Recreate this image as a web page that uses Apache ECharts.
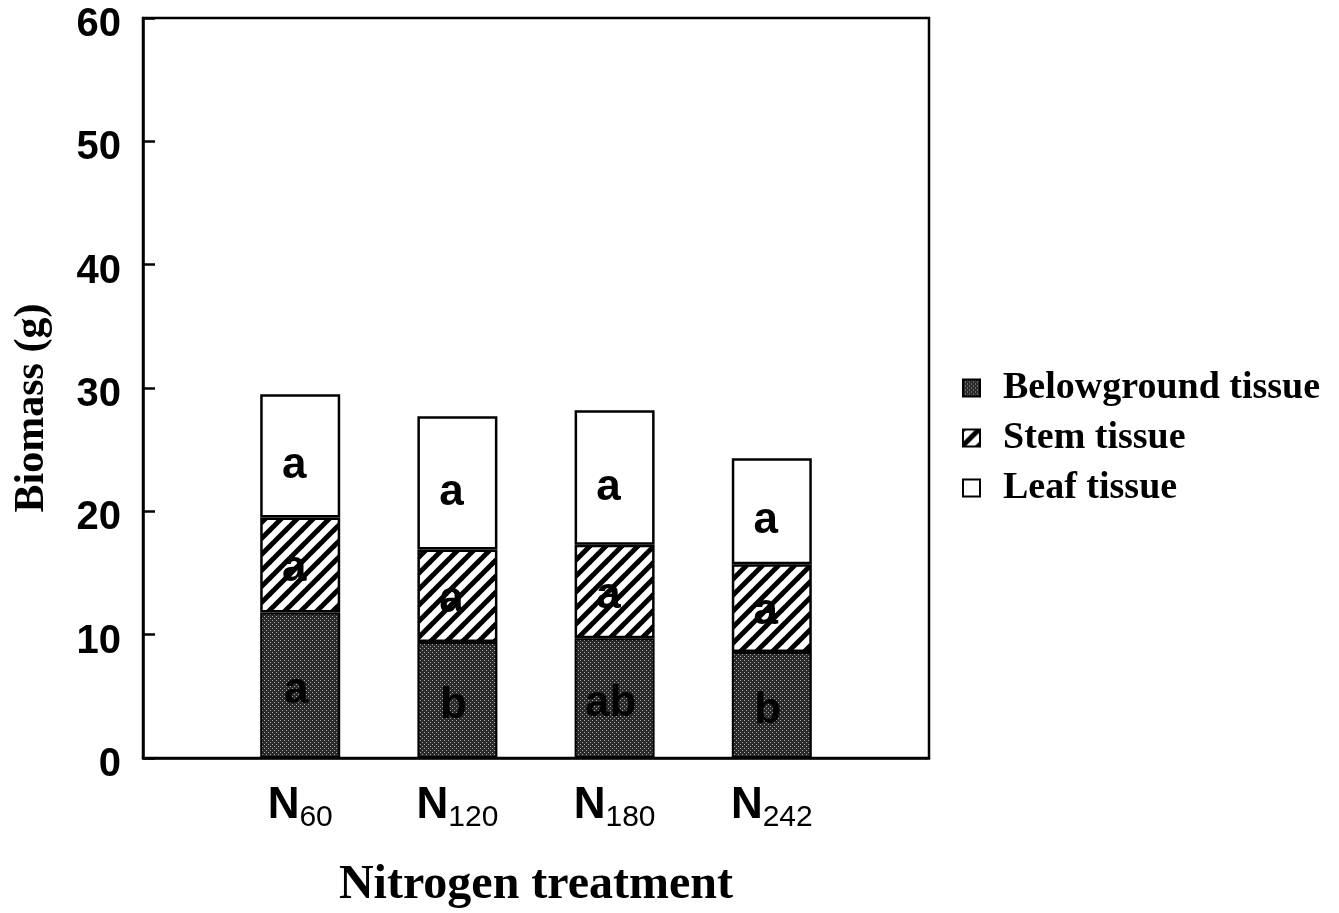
<!DOCTYPE html>
<html>
<head>
<meta charset="utf-8">
<script src="https://cdn.jsdelivr.net/npm/echarts@6/dist/echarts.min.js"></script>
<style>
  html, body { margin: 0; padding: 0; background: #fff; }
  #main { width: 1339px; height: 913px; }
</style>
</head>
<body>
<div id="main"></div>
<script>
// values (g)
const categories = ['N60', 'N120', 'N180', 'N242'];
const belowground = [11.8, 9.4, 9.7, 8.6];
const stem = [7.7, 7.5, 7.6, 7.1];
const leaf = [10.0, 10.8, 10.9, 8.6];
// significance letters
const belowLetters = ['a', 'b', 'ab', 'b'];
const stemLetters = ['a', 'a', 'a', 'a'];
const leafLetters = ['a', 'a', 'a', 'a'];
const yTicks = [0, 10, 20, 30, 40, 50, 60];

// empty slot at each end so the bars sit like the original
const pad = arr => ['-', ...arr, '-'];
const padCat = ['', ...categories, ''];
const padLet = arr => ['', ...arr, ''];

function stipple() {
    const c = document.createElement('canvas');
    c.width = 4; c.height = 4;
    const g = c.getContext('2d');
    g.fillStyle = '#2a2a2a';
    g.fillRect(0, 0, 4, 4);
    g.fillStyle = '#a8a8a8';
    g.fillRect(0, 0, 1, 1);
    g.fillRect(2, 2, 1, 1);
    return c;
}

function hatch() {
    const s = 16;
    const c = document.createElement('canvas');
    c.width = s; c.height = s;
    const g = c.getContext('2d');
    g.fillStyle = '#fff';
    g.fillRect(0, 0, s, s);
    g.strokeStyle = '#000';
    g.lineWidth = 5;
    [[-s, s, s, -s], [0, 2 * s, 2 * s, 0], [0, s, s, 0]].forEach(l => {
        g.beginPath();
        g.moveTo(l[0], l[1]);
        g.lineTo(l[2], l[3]);
        g.stroke();
    });
    return c;
}

const chart = echarts.init(document.getElementById('main'), null, { width: 1339, height: 913 });

const labelBase = {
    show: true,
    position: 'inside',
    color: '#000',
    fontFamily: 'Liberation Sans',
    fontWeight: 'bold',
    fontSize: 44
};

const option = {
    animation: false,
    backgroundColor: '#fff',
    grid: {
        left: 143, top: 18, width: 786, height: 740,
        outerBoundsMode: 'none',
        containLabel: false,
        show: true, borderColor: '#000', borderWidth: 2.5
    },
    legend: {
        orient: 'vertical',
        left: 957,
        top: 364,
        itemWidth: 17,
        itemHeight: 17,
        itemGap: 12,
        icon: 'rect',
        textStyle: {
            fontFamily: 'Liberation Serif',
            fontWeight: 'bold',
            fontSize: 38,
            color: '#000',
            padding: [0, 0, 0, 18]
        },
        data: ['Belowground tissue', 'Stem tissue', 'Leaf tissue']
    },
    xAxis: {
        type: 'category',
        data: padCat,
        boundaryGap: false,
        axisLine: { lineStyle: { color: '#000', width: 2.5 } },
        axisTick: { show: false },
        axisLabel: {
            interval: 0,
            margin: 26,
            color: '#000',
            formatter: v => v ? '{n|N}{s|' + v.slice(1) + '}' : '',
            rich: {
                n: { fontFamily: 'Liberation Sans', fontWeight: 'bold', fontSize: 44, verticalAlign: 'top', lineHeight: 50 },
                s: { fontFamily: 'Liberation Sans', fontSize: 30, verticalAlign: 'top', padding: [19, 0, 0, 0] }
            }
        },
        name: 'Nitrogen treatment',
        nameLocation: 'middle',
        nameGap: 104,
        nameTextStyle: { fontFamily: 'Liberation Serif', fontWeight: 'bold', fontSize: 48, color: '#000' }
    },
    yAxis: {
        type: 'value',
        min: 0,
        max: 60,
        interval: 10,
        splitLine: { show: false },
        axisLine: { show: true, lineStyle: { color: '#000', width: 2.5 } },
        axisTick: { show: true, inside: true, length: 12, lineStyle: { color: '#000', width: 2.5 } },
        axisLabel: {
            margin: 22,
            color: '#000',
            formatter: v => yTicks.includes(v) ? '{v|' + v + '}' : '',
            rich: {
                v: { fontFamily: 'Liberation Sans', fontWeight: 'bold', fontSize: 40, padding: [14, 0, 0, 0] }
            }
        },
        name: 'Biomass (g)',
        nameLocation: 'middle',
        nameGap: 90,
        nameTextStyle: { fontFamily: 'Liberation Serif', fontWeight: 'bold', fontSize: 42, color: '#000', padding: [0, 0, 0, -40] }
    },
    series: [
        {
            name: 'Belowground tissue',
            type: 'bar',
            stack: 'total',
            barWidth: 80,
            data: pad(belowground),
            itemStyle: { color: { image: stipple(), repeat: 'repeat' }, borderColor: '#000', borderWidth: 2 },
            label: Object.assign({}, labelBase, { offset: [-4, 6], formatter: p => padLet(belowLetters)[p.dataIndex] })
        },
        {
            name: 'Stem tissue',
            type: 'bar',
            stack: 'total',
            barWidth: 80,
            data: pad(stem),
            itemStyle: { color: { image: hatch(), repeat: 'repeat' }, borderColor: '#000', borderWidth: 2.5 },
            label: Object.assign({}, labelBase, { offset: [-6, 4], formatter: p => padLet(stemLetters)[p.dataIndex] })
        },
        {
            name: 'Leaf tissue',
            type: 'bar',
            stack: 'total',
            barWidth: 80,
            data: pad(leaf),
            itemStyle: { color: '#fff', borderColor: '#000', borderWidth: 2.5 },
            label: Object.assign({}, labelBase, { offset: [-6, 10], formatter: p => padLet(leafLetters)[p.dataIndex] })
        }
    ]
};

chart.setOption(option);
</script>
</body>
</html>
